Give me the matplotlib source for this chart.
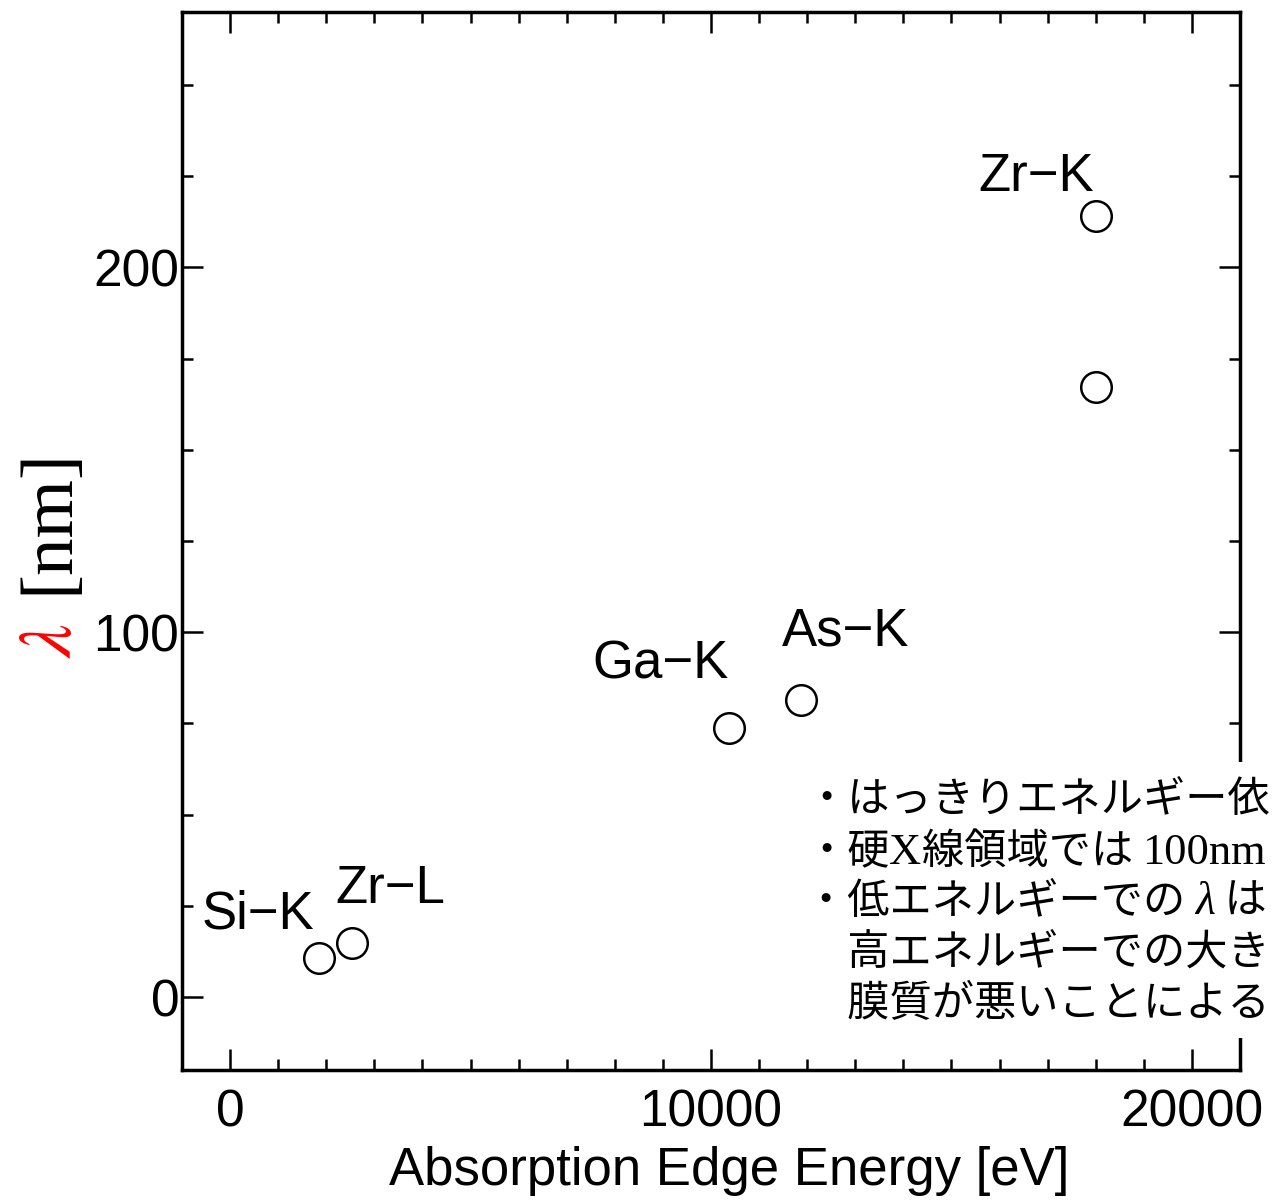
import matplotlib
matplotlib.use("Agg")
import matplotlib.pyplot as plt
from matplotlib.ticker import MultipleLocator
from matplotlib.patches import Rectangle

# ---- data ----
energy_eV = [1840, 2530, 10370, 11870, 18000, 18000]
lam_nm = [10.7, 14.8, 73.7, 81.4, 214.0, 167.1]

label_text = ["Si−K", "Zr−L", "Ga−K", "As−K", "Zr−K"]
label_x = [580, 3330, 8950, 12800, 16770]
label_y = [22.7, 29.6, 91.2, 100.3, 224.9]

xticks = [0, 10000, 20000]
yticks = [0, 100, 200]

note_lines = [
    [("・はっきりエネルギー依", "jp")],
    [("・硬", "jp"), ("X", "serif"), ("線領域では ", "jp"), ("100nm", "serif")],
    [("・低エネルギーでの ", "jp"), ("λ", "serif_it"), (" は", "jp")],
    [("　高エネルギーでの大き", "jp")],
    [("　膜質が悪いことによる", "jp")],
]

plt.rcParams['mathtext.fontset'] = 'stix'
W, H = 1274, 1202
fig = plt.figure(figsize=(W / 100, H / 100), dpi=100)
ax = fig.add_axes([182 / W, 1 - 1070 / H, (1240 - 182) / W, (1070 - 12) / H])

ax.plot(energy_eV, lam_nm, linestyle='none', marker='o', markersize=22,
        markerfacecolor='white', markeredgecolor='black', markeredgewidth=1.8)

sans = 'Liberation Sans'
for t, x, y in zip(label_text, label_x, label_y):
    ax.text(x, y, t, fontsize=38, family=sans, ha='center', va='center')

ax.set_xlim(-1000, 21000)
ax.set_ylim(-20, 270)
ax.set_xticks(xticks)
ax.set_yticks(yticks)
ax.xaxis.set_minor_locator(MultipleLocator(1000))
ax.yaxis.set_minor_locator(MultipleLocator(25))
ax.tick_params(which='both', direction='in', top=True, right=True, width=1.8)
ax.tick_params(which='major', length=15)
ax.tick_params(which='minor', length=8)
ax.tick_params(axis='x', which='major', pad=13, labelsize=37)
ax.tick_params(axis='y', which='major', pad=2, labelsize=37)
for lab in ax.get_xticklabels() + ax.get_yticklabels():
    lab.set_family(sans)
for s in ax.spines.values():
    s.set_linewidth(2.5)

ax.set_xlabel("Absorption Edge Energy [eV]", fontsize=38, family=sans)
ax.xaxis.set_label_coords(0.517, -0.072)

# y label: red lambda + [nm]
fig.text(50 / W, 1 - 640 / H, r"$\lambda$", color='red', fontsize=54,
         rotation=90, ha='center', va='center')
fig.text(50 / W, 1 - 521 / H, "[nm]", color='black', fontsize=54,
         family='Liberation Serif', rotation=90, ha='center', va='center')

# white box behind note (covers right spine)
fig.patches.append(Rectangle((812 / W, 1 - 1038 / H), (W - 812) / W, (1038 - 762) / H,
                             transform=fig.transFigure, facecolor='white',
                             edgecolor='none', zorder=2))

fonts = {
    "jp": dict(family=['Noto Sans CJK JP', 'DejaVu Sans'], fontsize=30.4),
    "serif": dict(family='Liberation Serif', fontsize=32),
    "serif_it": dict(family='Liberation Serif', style='italic', fontsize=33),
}
renderer = fig.canvas.get_renderer()
baselines = [812, 864, 914, 966, 1016]
x0 = 805
for line, yb in zip(note_lines, baselines):
    x = x0
    for txt, kind in line:
        t = fig.text(x / W, 1 - yb / H, txt, ha='left', va='baseline',
                     zorder=3, **fonts[kind])
        x = t.get_window_extent(renderer).x1

fig.savefig("out.png", dpi=100)
